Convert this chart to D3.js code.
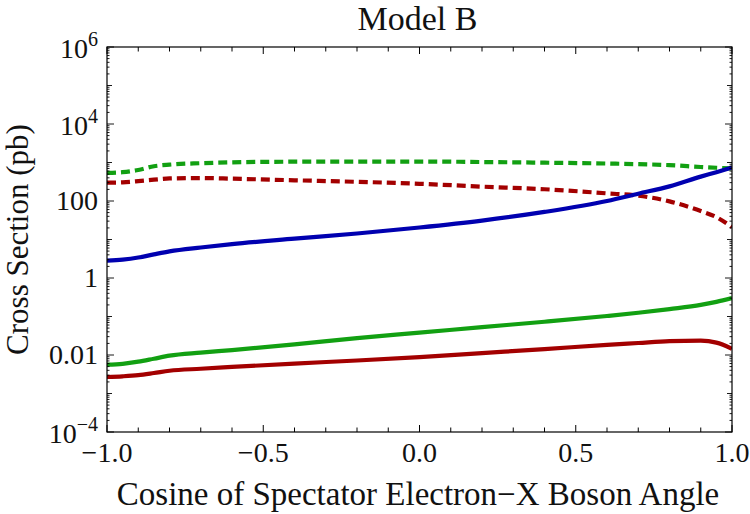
<!DOCTYPE html>
<html>
<head>
<meta charset="utf-8">
<script src="https://cdn.jsdelivr.net/npm/d3@7"></script>
<style>
  body { margin: 0; background: #fff; }
  text { font-family: "Liberation Serif", "DejaVu Serif", serif; fill: #111; }
</style>
</head>
<body>
<div id="chart"></div>
<script>
// cosine of spectator electron - X boson angle
var cosAngle = [-1, -0.95, -0.9, -0.85, -0.8, -0.7, -0.6, -0.4, -0.2, 0, 0.2, 0.4, 0.6, 0.7, 0.8, 0.9, 0.95, 1];

// cross sections (pb)
var greenDashed = [535, 560, 640, 800, 880, 960, 1010, 1050, 1060, 1060, 1030, 990, 940, 905, 855, 765, 730, 700];
var redDashed   = [299, 306, 328, 358, 385, 395, 380, 345, 315, 280, 236, 202, 158, 137, 98, 55, 38, 21];
var blueSolid   = [2.81, 3.0, 3.4, 4.1, 4.9, 6.2, 7.6, 10.5, 14.3, 20.5, 31, 52, 100, 155, 240, 430, 560, 740];
var greenSolid  = [0.0056, 0.0059, 0.0067, 0.008, 0.0096, 0.0115, 0.0134, 0.0188, 0.0275, 0.038, 0.053, 0.073, 0.103, 0.125, 0.156, 0.2, 0.24, 0.3];
var redSolid    = [0.00268, 0.0028, 0.003, 0.0034, 0.0039, 0.0044, 0.0049, 0.006, 0.0072, 0.0088, 0.0112, 0.0142, 0.0184, 0.0205, 0.0228, 0.0235, 0.021, 0.0145];

var xTickLabels = [-1, -0.5, 0, 0.5, 1];
var yTickLabels = [1e-4, 0.01, 1, 100, 1e4, 1e6];

var series = [
  {values: greenDashed, color: "#12a012", dash: "9,5"},
  {values: redDashed,   color: "#a30000", dash: "9,5"},
  {values: blueSolid,   color: "#0000b0", dash: null},
  {values: greenSolid,  color: "#12a012", dash: null},
  {values: redSolid,    color: "#a30000", dash: null}
];

var W = 750, H = 514;
var margin = {top: 47, right: 18, bottom: 82, left: 107};
var width = W - margin.left - margin.right,
    height = H - margin.top - margin.bottom;

var svg = d3.select("#chart").append("svg")
    .attr("width", W)
    .attr("height", H);

var g = svg.append("g")
    .attr("transform", `translate(${margin.left},${margin.top})`);

var x = d3.scaleLinear().domain([-1, 1]).range([0, width]);
var y = d3.scaleLog().domain([1e-4, 1e6]).range([height, 0]);

// clip so lines stay in the frame
g.append("clipPath").attr("id", "clip")
  .append("rect").attr("width", width).attr("height", height);

var line = d3.line()
    .x(d => x(d[0]))
    .y(d => y(d[1]))
    .curve(d3.curveMonotoneX);

series.forEach(s => {
  g.append("path")
    .datum(cosAngle.map((c, i) => [c, s.values[i]]))
    .attr("clip-path", "url(#clip)")
    .attr("fill", "none")
    .attr("stroke", s.color)
    .attr("stroke-width", 4.2)
    .attr("stroke-dasharray", s.dash)
    .attr("d", line);
});

// frame
g.append("rect")
  .attr("width", width)
  .attr("height", height)
  .attr("fill", "none")
  .attr("stroke", "#000")
  .attr("stroke-width", 1.2);

// x ticks every 0.1, on bottom and top
var xTicks = d3.range(-10, 11).map(i => i / 10);
xTicks.forEach(t => {
  var major = Math.abs(t * 2 - Math.round(t * 2)) < 1e-9;
  var len = major ? 7 : 4.5;
  g.append("line").attr("x1", x(t)).attr("x2", x(t)).attr("y1", height).attr("y2", height - len)
    .attr("stroke", "#000").attr("stroke-width", 1);
  g.append("line").attr("x1", x(t)).attr("x2", x(t)).attr("y1", 0).attr("y2", len)
    .attr("stroke", "#000").attr("stroke-width", 1);
});

// y ticks: decades and sub-decades, left and right
var yTicks = [];
for (var e = -4; e < 6; e++) {
  for (var m = 1; m < 10; m++) yTicks.push({v: m * Math.pow(10, e), m: m, e: e});
}
yTicks.push({v: 1e6, m: 1, e: 6});
yTicks.forEach(t => {
  var len = t.m === 1 ? (t.e % 2 === 0 ? 7 : 5) : 2.5;
  var yy = y(t.v);
  g.append("line").attr("x1", 0).attr("x2", len).attr("y1", yy).attr("y2", yy)
    .attr("stroke", "#000").attr("stroke-width", 0.9);
  g.append("line").attr("x1", width).attr("x2", width - len).attr("y1", yy).attr("y2", yy)
    .attr("stroke", "#000").attr("stroke-width", 0.9);
});

// x tick labels
g.selectAll(".xlab")
  .data(xTickLabels)
  .enter().append("text")
    .attr("class", "xlab")
    .attr("x", d => x(d))
    .attr("y", height + 30)
    .attr("text-anchor", "middle")
    .style("font-size", "28px")
    .text(d => d3.format(".1f")(d).replace("-", "\u2212"));

// y tick labels
yTickLabels.forEach(v => {
  var e = Math.round(Math.log10(v));
  var t = g.append("text")
    .attr("x", -9)
    .attr("text-anchor", "end")
    .style("font-size", "28px");
  if (e >= 4 || e <= -4) {
    t.attr("y", y(v) + 11);
    t.append("tspan").text("10");
    t.append("tspan")
      .attr("dy", -12)
      .style("font-size", "20px")
      .text(String(e).replace("-", "\u2212"));
  } else {
    t.attr("y", y(v) + 9);
    t.text(d3.format("")(v));
  }
});

// title and axis labels
svg.append("text")
  .attr("x", margin.left + width / 2 - 2)
  .attr("y", 30)
  .attr("text-anchor", "middle")
  .style("font-size", "34px")
  .text("Model B");

svg.append("text")
  .attr("x", 418)
  .attr("y", 505)
  .attr("text-anchor", "middle")
  .style("font-size", "33px")
  .text("Cosine of Spectator Electron\u2212X Boson Angle");

svg.append("text")
  .attr("transform", `translate(28,${margin.top + height / 2}) rotate(-90)`)
  .attr("text-anchor", "middle")
  .style("font-size", "31px")
  .text("Cross Section (pb)");
</script>
</body>
</html>
